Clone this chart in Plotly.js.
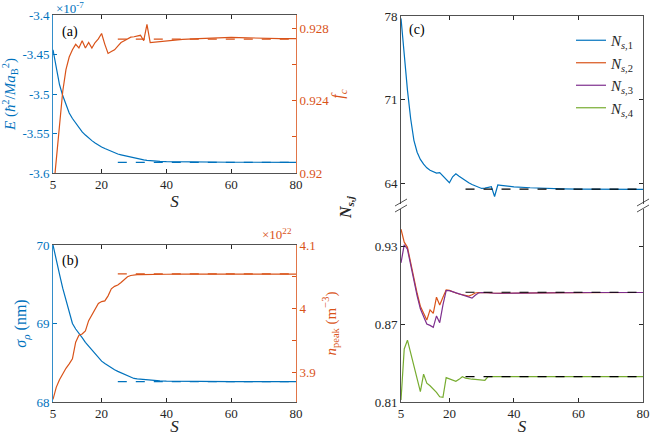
<!DOCTYPE html>
<html>
<head>
<meta charset="utf-8">
<script src="https://cdn.plot.ly/plotly-3.0.1.min.js"></script>
<style>html,body{margin:0;padding:0;background:#fff;}#chart{width:650px;height:436px;}</style>
</head>
<body>
<div id="chart"></div>
<script>
// ---------- data ----------
const S = [5,6,7,8,9,10,11,12,13,14,15,16,17,18,19,20,21,22,23,24,25,26,27,28,29,30,31,32,33,34,35,36,38,40,45,50,55,60,65,70,75,80];

// panel (a)
const E = [-3.444,-3.468,-3.488,-3.502,-3.514,-3.524,-3.531,-3.537,-3.543,-3.548,-3.552,-3.556,-3.559,-3.562,-3.565,-3.567,-3.569,-3.571,-3.573,-3.575,-3.576,-3.577,-3.578,-3.579,-3.580,-3.5812,-3.582,-3.5828,-3.5835,-3.584,-3.5845,-3.5848,-3.5853,-3.5856,-3.586,-3.5862,-3.5863,-3.5864,-3.5864,-3.5865,-3.5865,-3.5865];
const fc = [0.9188,0.9208,0.9228,0.9245,0.9257,0.9264,0.9268,0.9271,0.9269,0.9273,0.9269,0.9272,0.9269,0.9272,0.9274,0.9277,0.9271,0.9266,0.9267,0.9268,0.9270,0.9272,0.9273,0.9274,0.9275,0.92752,0.92758,0.9276,0.9273,0.9282,0.9272,0.92722,0.92726,0.9273,0.92738,0.92742,0.92745,0.92748,0.92746,0.92743,0.92742,0.92742];

// panel (b)
const sigma = [70.0,69.80,69.63,69.45,69.29,69.13,69.0,68.93,68.88,68.82,68.76,68.71,68.66,68.61,68.56,68.52,68.49,68.46,68.435,68.41,68.39,68.37,68.35,68.33,68.315,68.30,68.295,68.29,68.285,68.28,68.275,68.272,68.268,68.265,68.262,68.26,68.26,68.26,68.26,68.26,68.26,68.26];
const npeak = [3.857,3.876,3.888,3.898,3.906,3.913,3.921,3.947,3.958,3.960,3.965,3.981,3.990,3.997,4.008,4.011,4.012,4.020,4.031,4.035,4.037,4.041,4.046,4.050,4.052,4.053,4.0533,4.0535,4.0537,4.0538,4.054,4.054,4.054,4.054,4.0542,4.0542,4.0542,4.0542,4.0542,4.0542,4.0542,4.0542];

// panel (c)
const N1 = [77.8,74.4,71.8,69.4,67.6,66.6,66.0,65.6,65.3,65.1,65.0,64.85,64.9,64.6,64.3,64.05,64.55,64.8,64.6,64.4,64.2,64.05,63.9,63.78,63.66,63.57,63.6,63.68,63.72,62.9,63.86,63.83,63.77,63.71,63.63,63.57,63.54,63.52,63.51,63.51,63.5,63.5];
const N2 = [0.9435,0.9335,0.9295,0.917,0.905,0.894,0.884,0.878,0.8733,0.8812,0.8785,0.8910,0.8850,0.8910,0.8966,0.8962,0.8955,0.8942,0.8934,0.8928,0.8923,0.8918,0.8928,0.8942,0.8946,0.8947,0.8946,0.8944,0.8942,0.8940,0.8939,0.8939,0.8940,0.8941,0.8943,0.8944,0.8945,0.8945,0.8946,0.8946,0.8946,0.8946];
const N3 = [0.9175,0.9315,0.9280,0.917,0.904,0.892,0.882,0.876,0.8703,0.8692,0.8677,0.8765,0.8713,0.8850,0.8960,0.8960,0.8952,0.8941,0.8933,0.8926,0.8918,0.8908,0.8902,0.8925,0.8942,0.8946,0.8946,0.8944,0.8942,0.8940,0.8939,0.8939,0.8940,0.8941,0.8943,0.8944,0.8945,0.8945,0.8946,0.8946,0.8946,0.8946];
const N4 = [0.8115,0.851,0.8578,0.848,0.838,0.828,0.818,0.8315,0.8245,0.8225,0.8200,0.8175,0.8140,0.8136,0.8288,0.8280,0.8268,0.8260,0.8275,0.8295,0.8285,0.8278,0.8276,0.8275,0.8273,0.8272,0.8268,0.8296,0.8296,0.8296,0.8296,0.8296,0.8296,0.8296,0.8296,0.8296,0.8296,0.8296,0.8296,0.8296,0.8296,0.8296];

// converged reference (dashed) lines
const S_ref = [25, 80];
const E_ref = [-3.5865, -3.5865];
const fc_ref = [0.92739, 0.92739];
const sigma_ref = [68.26, 68.26];
const npeak_ref = [4.0545, 4.0545];
const N1_ref = [63.52, 63.52];
const N23_ref = [0.8948, 0.8948];
const N4_ref = [0.8296, 0.8296];

// tick labels
const xTicks = [5, 20, 40, 60, 80];
const E_ticks = [-3.6, -3.55, -3.5, -3.45, -3.4];
const E_tickText = ['-3.6', '-3.55', '-3.5', '-3.45', '-3.4'];
const fc_ticks = [0.92, 0.922, 0.924, 0.926, 0.928];
const fc_tickText = ['0.92', '', '0.924', '', '0.928'];
const sigma_ticks = [68, 69, 70];
const sigma_tickText = ['68', '69', '70'];
const n_ticks = [3.9, 3.95, 4.0, 4.05, 4.1];
const n_tickText = ['3.9', '', '4', '', '4.1'];
const Nup_ticks = [64, 71, 78];
const Nlo_ticks = [0.81, 0.87, 0.93];
const Nlo_tickText = ['0.81', '0.87', '0.93'];
const legendNames = ['<i>N</i><sub><i>s</i>,1</sub>', '<i>N</i><sub><i>s</i>,2</sub>', '<i>N</i><sub><i>s</i>,3</sub>', '<i>N</i><sub><i>s</i>,4</sub>'];

// ---------- style ----------
const BLUE = '#0072BD', ORANGE = '#D95319', PURPLE = '#7E2F8E', GREEN = '#77AC30', DARK = '#262626';
const W = 650, H = 436;
const px = v => v / W;
const py = v => 1 - v / H;
const LW = 1.2;

function line(x, y, xa, ya, color, opts) {
  return Object.assign({type: 'scatter', mode: 'lines', x: x, y: y, xaxis: xa, yaxis: ya,
    line: {color: color, width: LW}, showlegend: false, hoverinfo: 'skip'}, opts || {});
}
const dashed = (x, y, xa, ya, color) => line(x, y, xa, ya, color, {line: {color: color, width: LW, dash: 'dash'}});

const data = [
  line(S, E, 'x', 'y', BLUE),
  dashed(S_ref, E_ref, 'x', 'y', BLUE),
  line(S, fc, 'x', 'y2', ORANGE),
  dashed(S_ref, fc_ref, 'x', 'y2', ORANGE),
  line(S, sigma, 'x2', 'y3', BLUE),
  dashed(S_ref, sigma_ref, 'x2', 'y3', BLUE),
  line(S, npeak, 'x2', 'y4', ORANGE),
  dashed(S_ref, npeak_ref, 'x2', 'y4', ORANGE),
  line(S, N1, 'x3', 'y5', BLUE, {name: legendNames[0], showlegend: true}),
  line(S, N2, 'x4', 'y6', ORANGE, {name: legendNames[1], showlegend: true}),
  line(S, N3, 'x4', 'y6', PURPLE, {name: legendNames[2], showlegend: true}),
  line(S, N4, 'x4', 'y6', GREEN, {name: legendNames[3], showlegend: true}),
  dashed(S_ref, N1_ref, 'x3', 'y5', '#000'),
  dashed(S_ref, N23_ref, 'x4', 'y6', '#000'),
  dashed(S_ref, N4_ref, 'x4', 'y6', '#000')
];

const FONT = 'Liberation Serif';
const TF = {family: FONT, size: 13, color: DARK};

function xAx(anchor, dom, extra) {
  return Object.assign({domain: dom, anchor: anchor, range: [5, 80], tickmode: 'array', tickvals: xTicks,
    ticks: 'inside', ticklen: 4, tickcolor: DARK, showline: true, linecolor: DARK, linewidth: 0.8,
    mirror: 'ticks', showgrid: false, zeroline: false, tickfont: TF,
    title: {text: '<i>S</i>', font: {family: FONT, size: 17, color: DARK}, standoff: 0}}, extra || {});
}
function yAx(dom, range, vals, text, color, extra) {
  return Object.assign({domain: dom, range: range, tickmode: 'array', tickvals: vals, ticktext: text,
    ticks: 'inside', ticklen: 4, tickcolor: color, showline: true, linecolor: color, linewidth: 0.8,
    showgrid: false, zeroline: false, tickfont: Object.assign({}, TF, {color: color})}, extra || {});
}

const xA = [px(53), px(296)], xC = [px(401), px(643)];
const yAd = [py(173), py(15)], yBd = [py(402), py(245)];
const yCu = [py(204), py(16)], yCl = [py(402), py(209)];

const layout = {
  width: W, height: H, margin: {l: 0, r: 0, t: 0, b: 0},
  paper_bgcolor: '#fff', plot_bgcolor: 'rgba(0,0,0,0)',
  font: {family: FONT, color: DARK},
  showlegend: true,
  legend: {x: px(640), xanchor: 'right', y: py(24), yanchor: 'top', bgcolor: 'rgba(255,255,255,0)',
    font: {family: FONT, size: 15, color: DARK}, itemwidth: 30, tracegroupgap: 0},
  xaxis: xAx('y', xA),
  yaxis: yAx(yAd, [-3.6, -3.4], E_ticks, E_tickText, BLUE, {
    title: {text: '<i>E</i> (<i>ħ</i><sup>2</sup>/<i>Ma</i><sub>B</sub><sup>2</sup>)', font: {family: FONT, size: 15, color: BLUE}, standoff: 3}}),
  yaxis2: yAx(yAd, [0.92, 0.92872], fc_ticks, fc_tickText, ORANGE, {overlaying: 'y', side: 'right', anchor: 'x',
    title: {text: '<i>f<sub>c</sub></i>', font: {family: FONT, size: 16, color: ORANGE}, standoff: 1}}),
  xaxis2: xAx('y3', xA),
  yaxis3: yAx(yBd, [68, 70], sigma_ticks, sigma_tickText, BLUE, {
    title: {text: '<i>σ<sub>ρ</sub></i> (nm)', font: {family: FONT, size: 16, color: BLUE}, standoff: 5}}),
  yaxis4: yAx(yBd, [3.853, 4.1], n_ticks, n_tickText, ORANGE, {overlaying: 'y3', side: 'right', anchor: 'x2',
    title: {text: '<i>n</i><sub>peak</sub> (m<sup>−3</sup>)', font: {family: FONT, size: 15, color: ORANGE}, standoff: 10}}),
  xaxis3: xAx('y5', xC, {side: 'top', showticklabels: false, mirror: false, title: {text: ''}}),
  yaxis5: yAx(yCu, [62.27, 78], Nup_ticks, Nup_ticks.map(String), DARK, {anchor: 'x3', mirror: 'ticks'}),
  xaxis4: xAx('y6', xC, {mirror: false}),
  yaxis6: yAx(yCl, [0.81, 0.9591], Nlo_ticks, Nlo_tickText, DARK, {anchor: 'x4', mirror: 'ticks'}),
  annotations: [
    {text: '(a)', x: px(60), y: py(32), xref: 'paper', yref: 'paper', xanchor: 'left', yanchor: 'middle', showarrow: false, font: {family: FONT, size: 14, color: '#000'}},
    {text: '(b)', x: px(60), y: py(261), xref: 'paper', yref: 'paper', xanchor: 'left', yanchor: 'middle', showarrow: false, font: {family: FONT, size: 14, color: '#000'}},
    {text: '(c)', x: px(407), y: py(30), xref: 'paper', yref: 'paper', xanchor: 'left', yanchor: 'middle', showarrow: false, font: {family: FONT, size: 14, color: '#000'}},
    {text: '×10<sup>-7</sup>', x: px(54), y: py(8), xref: 'paper', yref: 'paper', xanchor: 'left', yanchor: 'middle', showarrow: false, font: {family: FONT, size: 13, color: BLUE}},
    {text: '×10<sup>22</sup>', x: px(294), y: py(234), xref: 'paper', yref: 'paper', xanchor: 'right', yanchor: 'middle', showarrow: false, font: {family: FONT, size: 13, color: ORANGE}},
    {text: '<b><i>N<sub>s,j</sub></i></b>', x: px(346), y: py(207), xref: 'paper', yref: 'paper', xanchor: 'center', yanchor: 'middle', textangle: -90, showarrow: false, font: {family: FONT, size: 16, color: DARK}}
  ],
  shapes: [401, 643].flatMap(cx => [
    {type: 'line', xref: 'paper', yref: 'paper', x0: px(cx - 6), y0: py(206), x1: px(cx + 6), y1: py(199), line: {color: DARK, width: 0.8}},
    {type: 'line', xref: 'paper', yref: 'paper', x0: px(cx - 6), y0: py(212), x1: px(cx + 6), y1: py(205), line: {color: DARK, width: 0.8}}
  ])
};

Plotly.newPlot('chart', data, layout, {staticPlot: true, displayModeBar: false});
</script>
</body>
</html>
